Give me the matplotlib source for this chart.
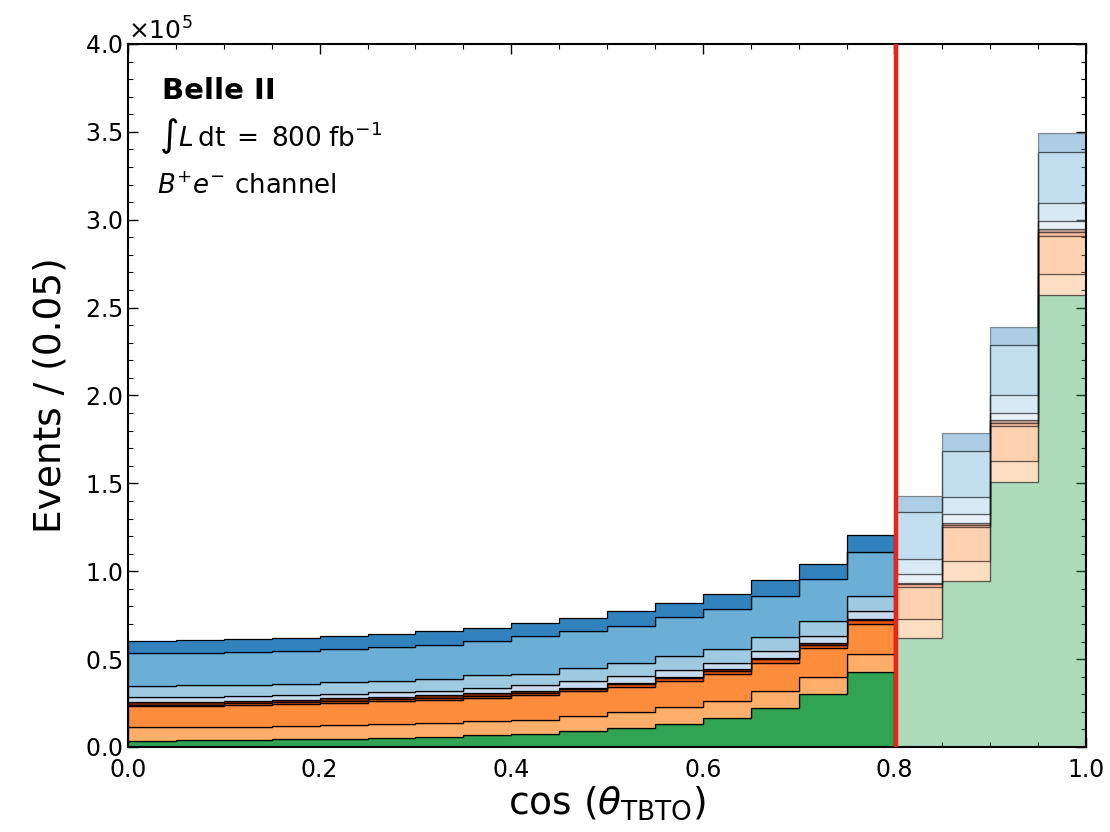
import numpy as np
import matplotlib
matplotlib.use("Agg")
import matplotlib.pyplot as plt
from matplotlib.ticker import MultipleLocator

# ---------------- data (events per bin of width 0.05) ----------------
bin_edges = [0.00, 0.05, 0.10, 0.15, 0.20, 0.25, 0.30, 0.35, 0.40, 0.45, 0.50,
             0.55, 0.60, 0.65, 0.70, 0.75, 0.80, 0.85, 0.90, 0.95, 1.00]
cut_value = 0.8

# stacked components, bottom to top
comp_green = [3600, 3700, 3800, 4400, 4700, 5100, 5900, 6600, 7200, 9100,
              10800, 13300, 16700, 22400, 30150, 42700, 61850, 94450, 150800, 257000]
comp_light_orange = [7600, 7700, 7800, 7600, 7600, 8000, 7600, 8000, 8200, 8550,
                     9100, 9450, 9450, 9650, 9850, 10250, 10800, 11400, 11750, 12350]
comp_orange = [12100, 12100, 12300, 12500, 12900, 12900, 13250, 13300, 14200, 14200,
               14250, 14800, 15600, 15950, 16350, 17250, 18600, 19150, 20100, 21600]
comp_dark_orange = [400, 500, 1000, 1000, 1100, 1100, 1150, 1200, 1100, 1000,
                    1450, 1500, 1600, 1800, 1900, 1900, 1300, 1300, 1850, 2250]
comp_brown = [1900, 1800, 1400, 1400, 1400, 1500, 1500, 1600, 1000, 900,
              1000, 950, 850, 850, 1100, 900, 950, 950, 1300, 1350]
comp_lightest_blue = [2850, 2850, 2700, 2700, 2650, 2500, 2650, 2700, 3600, 3800,
                      3800, 4000, 3600, 3800, 3800, 4400, 4750, 5350, 4450, 4950]
comp_light_blue = [6450, 6450, 6500, 6400, 6450, 6650, 6850, 7400, 6400, 7400,
                   7400, 7950, 7950, 8150, 8350, 8500, 8900, 9450, 9850, 9850]
comp_mid_blue = [18600, 18600, 18600, 18800, 19000, 19150, 19350, 19350, 21450, 20850,
                 21050, 21850, 22800, 23500, 23900, 25250, 26400, 26550, 28650, 29200]
comp_dark_blue = [6800, 7000, 7100, 7350, 7400, 7400, 7550, 7750, 7400, 7800,
                  8350, 8150, 8350, 8950, 8950, 9500, 9250, 9900, 10050, 10650]

components = [comp_green, comp_light_orange, comp_orange, comp_dark_orange, comp_brown,
              comp_lightest_blue, comp_light_blue, comp_mid_blue, comp_dark_blue]
colors = ["#31a354", "#fdae6b", "#fd8d3c", "#e6550d", "#7f2704",
          "#c6dbef", "#9ecae1", "#6baed6", "#3182bd"]

# ---------------- figure ----------------
fig = plt.figure(figsize=(11.10, 8.32), dpi=100)
ax = fig.add_axes([128 / 1110, 1 - 747 / 832, (1086 - 128) / 1110, (747 - 44) / 832])

edges = np.array(bin_edges)
vals = np.array(components, dtype=float)
cum = np.cumsum(vals, axis=0)
base = np.vstack([np.zeros(vals.shape[1]), cum[:-1]])

n_cut = int(np.searchsorted(edges, cut_value))  # number of bins below cut
for k in range(len(components)):
    # bins below the cut: full colours
    ax.stairs(cum[k, :n_cut], edges[:n_cut + 1], baseline=base[k, :n_cut], fill=True,
              facecolor=colors[k], edgecolor="black", linewidth=0.9, zorder=2)
    # bins above the cut: faded
    ax.stairs(cum[k, n_cut:], edges[n_cut:], baseline=base[k, n_cut:], fill=True,
              facecolor=colors[k], edgecolor="black", linewidth=0.9, alpha=0.4, zorder=2)

ax.axvline(cut_value + 0.0015, color="#ec2418", linewidth=3.2, zorder=3)

ax.set_xlim(0, 1)
ax.set_ylim(0, 4.0e5)
ax.xaxis.set_major_locator(MultipleLocator(0.2))
ax.xaxis.set_minor_locator(MultipleLocator(0.05))
ax.yaxis.set_major_locator(MultipleLocator(0.5e5))
ax.yaxis.set_minor_locator(MultipleLocator(0.1e5))
ax.ticklabel_format(axis="y", style="sci", scilimits=(0, 0), useMathText=True)
ax.yaxis.get_offset_text().set_fontsize(18)

ax.tick_params(which="both", direction="in", top=True, right=True, labelsize=17)
ax.tick_params(which="major", length=7, width=1.0)
ax.tick_params(which="minor", length=3.5, width=0.8)
ax.tick_params(axis="x", pad=8)
for s in ax.spines.values():
    s.set_linewidth(1.5)

ax.set_xlabel(r"$\cos\,(\theta_{\mathrm{TBTO}})$", fontsize=27, labelpad=2)
ax.set_ylabel("Events / (0.05)", fontsize=27, labelpad=12)

ax.text(0.036, 0.922, "Belle II", transform=ax.transAxes, fontsize=21,
        fontweight="bold", ha="left", va="baseline")
ax.text(0.032, 0.855, r"$\int L\,\mathrm{dt}\;=\;800\;\mathrm{fb}^{-1}$",
        transform=ax.transAxes, fontsize=19, ha="left", va="baseline")
ax.text(0.030, 0.786, r"$B^{+}e^{-}$ channel", transform=ax.transAxes, fontsize=18.7,
        ha="left", va="baseline")

fig.savefig("out.png", dpi=100)
